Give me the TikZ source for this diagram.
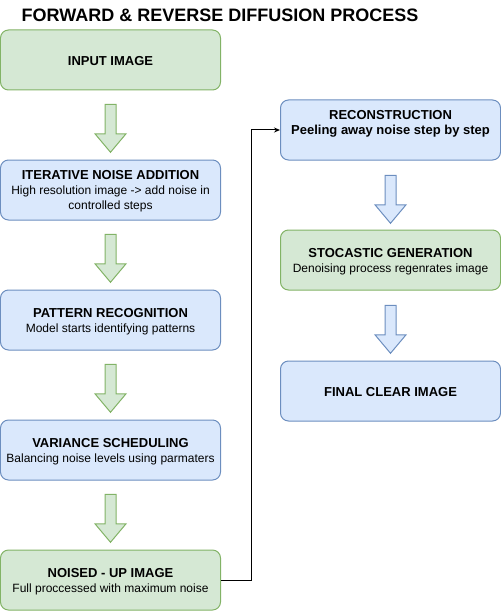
\documentclass[tikz,border=0pt]{standalone}
\usepackage{fontspec}
\setmainfont{Liberation Sans}
\usetikzlibrary{positioning,shapes.arrows,arrows.meta}

\definecolor{gfill}{HTML}{D5E8D4}
\definecolor{gline}{HTML}{82B366}
\definecolor{bfill}{HTML}{DAE8FC}
\definecolor{bline}{HTML}{6C8EBF}

\newcommand{\hd}[1]{{\fontsize{13bp}{15bp}\selectfont\bfseries #1}}

\begin{document}
\begin{tikzpicture}[x=1bp,y=1bp,
  box/.style={rounded corners=8bp,minimum width=220bp,minimum height=60bp,line width=1bp,align=center,inner sep=0pt,text depth=0pt,execute at begin node={\rule{0pt}{11.5bp}},font=\fontsize{12bp}{15bp}\selectfont},
  gbox/.style={box,draw=gline,fill=gfill},
  bbox/.style={box,draw=bline,fill=bfill},
  barr/.style={single arrow,shape border rotate=270,line width=1bp,minimum height=48bp,minimum width=30bp,inner sep=5bp,single arrow head extend=10bp,single arrow tip angle=80,single arrow head indent=0pt},
  garr/.style={barr,draw=gline,fill=gfill},
  barrb/.style={barr,draw=bline,fill=bfill}]

\useasboundingbox (0,0) rectangle (501,-611);

\node (title) at (220,-15) {\fontsize{18bp}{20bp}\selectfont\bfseries FORWARD \& REVERSE DIFFUSION PROCESS};

% forward
\node[gbox] (in)  at (110.5,-60)           {\hd{INPUT IMAGE}};
\node[garr] (a1)  [on grid,below=65bp of in]  {};
\node[bbox] (ina) [on grid,below=130bp of in] {\hd{ITERATIVE NOISE ADDITION}\\High resolution image -> add noise in\\controlled steps};
\node[garr] (a2)  [on grid,below=65bp of ina] {};
\node[bbox] (pr)  [on grid,below=130bp of ina] {\hd{PATTERN RECOGNITION}\\Model starts identifying patterns};
\node[garr] (a3)  [on grid,below=65bp of pr]  {};
\node[bbox] (vs)  [on grid,below=130bp of pr]  {\hd{VARIANCE SCHEDULING}\\Balancing noise levels using parmaters};
\node[garr] (a4)  [on grid,below=65bp of vs]  {};
\node[gbox] (nu)  [on grid,below=130bp of vs]  {\hd{NOISED - UP IMAGE}\\Full proccessed with maximum noise};

% reverse
\node[bbox]  (rec) at (390.5,-130)            {\hd{RECONSTRUCTION}\\\hd{Peeling away noise step by step}\\\mbox{}};
\node[barrb] (b1)  [on grid,below=66bp of rec] {};
\node[gbox]  (sg)  [on grid,below=130bp of rec] {\hd{STOCASTIC GENERATION}\\Denoising process regenrates image};
\node[barrb] (b2)  [on grid,below=66bp of sg]  {};
\node[bbox]  (fci) [on grid,below=131bp of sg]  {\hd{FINAL CLEAR IMAGE}};

\draw[line width=1bp,-{Stealth[length=6bp,width=5bp]}] (nu.east) -- ++(30,0) |- (rec.west);

\end{tikzpicture}
\end{document}
